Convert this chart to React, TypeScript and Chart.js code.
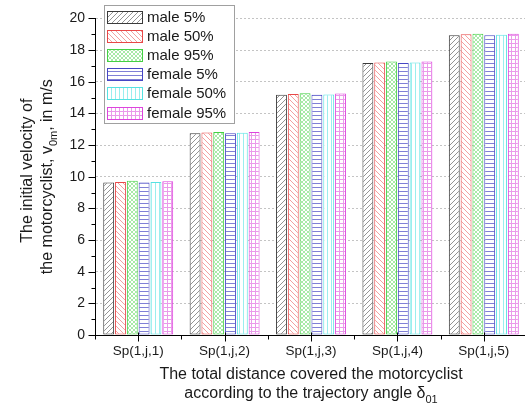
import React, { useEffect, useRef } from "react";
import { Chart, registerables } from "chart.js";

Chart.register(...registerables);

// Categories along the horizontal axis
const categories = ["Sp(1,j,1)", "Sp(1,j,2)", "Sp(1,j,3)", "Sp(1,j,4)", "Sp(1,j,5)"];

// Initial velocity v0m [m/s] for each rider group
const male5 = [9.63, 12.74, 15.18, 17.18, 18.94];
const male50 = [9.66, 12.8, 15.22, 17.22, 19.0];
const male95 = [9.74, 12.82, 15.27, 17.28, 19.03];
const female5 = [9.63, 12.74, 15.18, 17.18, 18.94];
const female50 = [9.66, 12.77, 15.2, 17.22, 18.97];
const female95 = [9.72, 12.82, 15.26, 17.28, 19.03];

const seriesLabels = ["male 5%", "male 50%", "male 95%", "female 5%", "female 50%", "female 95%"];

// Y axis range
const yMin = 0;
const yMax = 20;
const yStep = 2;

const FONT = "Arial, 'Liberation Sans', sans-serif";

type HatchKind = "fwd" | "back" | "cross" | "h" | "v" | "grid";

function makePattern(ctx: CanvasRenderingContext2D, kind: HatchKind, color: string, n: number) {
  const c = document.createElement("canvas");
  c.width = n;
  c.height = n;
  const g = c.getContext("2d") as CanvasRenderingContext2D;
  g.fillStyle = "#ffffff";
  g.fillRect(0, 0, n, n);
  g.strokeStyle = color;
  g.lineWidth = 1;
  const line = (x1: number, y1: number, x2: number, y2: number) => {
    g.beginPath();
    g.moveTo(x1, y1);
    g.lineTo(x2, y2);
    g.stroke();
  };
  if (kind === "fwd" || kind === "cross") {
    for (const k of [-n, 0, n]) line(k, n, k + n, 0);
  }
  if (kind === "back" || kind === "cross") {
    for (const k of [-n, 0, n]) line(k, 0, k + n, n);
  }
  if (kind === "h" || kind === "grid") line(0, n - 0.5, n, n - 0.5);
  if (kind === "v" || kind === "grid") line(n - 0.5, 0, n - 0.5, n);
  return ctx.createPattern(c, "repeat") as CanvasPattern;
}

type Part = { t: string; sub?: boolean };

function drawRich(ctx: CanvasRenderingContext2D, parts: Part[], cx: number, cy: number, size: number) {
  const subSize = Math.round(size * 0.66);
  let total = 0;
  for (const p of parts) {
    ctx.font = `${p.sub ? subSize : size}px ${FONT}`;
    total += ctx.measureText(p.t).width;
  }
  let x = cx - total / 2;
  const base = cy + size * 0.36;
  ctx.textAlign = "left";
  ctx.textBaseline = "alphabetic";
  for (const p of parts) {
    ctx.font = `${p.sub ? subSize : size}px ${FONT}`;
    ctx.fillText(p.t, x, p.sub ? base + size * 0.3 : base);
    x += ctx.measureText(p.t).width;
  }
}

export default function App() {
  const ref = useRef<HTMLCanvasElement | null>(null);

  useEffect(() => {
    const canvas = ref.current;
    if (!canvas) return;
    const ctx = canvas.getContext("2d") as CanvasRenderingContext2D;

    const styles = [
      { border: "#3a3a3a", fill: makePattern(ctx, "fwd", "#949494", 5) },
      { border: "#e84848", fill: makePattern(ctx, "back", "#f3a0a0", 5) },
      { border: "#44d044", fill: makePattern(ctx, "cross", "#a8eaa8", 4) },
      { border: "#4646c4", fill: makePattern(ctx, "h", "#8080d6", 4) },
      { border: "#55e2e2", fill: makePattern(ctx, "v", "#9aeeee", 4) },
      { border: "#dd44dd", fill: makePattern(ctx, "grid", "#ea9aea", 4) },
    ];
    const values = [male5, male50, male95, female5, female50, female95];

    const decorations = {
      id: "decorations",
      afterDraw(chart: any) {
        const c: CanvasRenderingContext2D = chart.ctx;
        const xs = chart.scales.x;
        const ys = chart.scales.y;
        const area = chart.chartArea;
        c.save();
        c.strokeStyle = "#000";
        c.lineWidth = 1;
        // y ticks: major every 2, minor every 1
        for (let v = yMin; v <= yMax; v += 1) {
          const y = Math.round(ys.getPixelForValue(v)) + 0.5;
          const len = v % yStep === 0 ? 7 : 4;
          c.beginPath();
          c.moveTo(Math.round(area.left) + 0.5 - len, y);
          c.lineTo(Math.round(area.left) + 0.5, y);
          c.stroke();
        }
        // x ticks: major at category centres, minor at boundaries
        const bottom = Math.round(area.bottom) + 0.5;
        for (let i = 0; i < categories.length; i++) {
          const x = Math.round(xs.getPixelForValue(i)) + 0.5;
          c.beginPath();
          c.moveTo(x, bottom - 3);
          c.lineTo(x, bottom + 6);
          c.stroke();
        }
        for (let i = 0; i <= categories.length; i++) {
          const x = Math.round(xs.getPixelForValue(i - 0.5)) + 0.5;
          c.beginPath();
          c.moveTo(x, bottom);
          c.lineTo(x, bottom + 4);
          c.stroke();
        }

        // axis titles
        c.fillStyle = "#1a1a1a";
        const midX = (area.left + area.right) / 2;
        drawRich(c, [{ t: "The total distance covered the motorcyclist" }], midX, 373, 16);
        drawRich(
          c,
          [{ t: "according to the trajectory angle \u03B4" }, { t: "01", sub: true }],
          midX,
          392,
          16
        );
        const midY = (area.top + area.bottom) / 2;
        c.save();
        c.translate(26, midY - 6);
        c.rotate(-Math.PI / 2);
        drawRich(c, [{ t: "The initial velocity of" }], 0, 0, 16);
        c.restore();
        c.save();
        c.translate(46, midY);
        c.rotate(-Math.PI / 2);
        drawRich(
          c,
          [{ t: "the motorcyclist, v" }, { t: "0m", sub: true }, { t: ", in m/s" }],
          0,
          0,
          16
        );
        c.restore();

        // legend box
        const lx = 104.5;
        const ly = 5.5;
        c.fillStyle = "#ffffff";
        c.fillRect(lx, ly, 130, 118);
        c.strokeStyle = "#a0a0a0";
        c.strokeRect(lx, ly, 130, 118);
        for (let i = 0; i < seriesLabels.length; i++) {
          const sy = 11 + i * 19.1;
          const ry = Math.round(sy) + 0.5;
          c.fillStyle = styles[i].fill;
          c.fillRect(107.5, ry, 35, 12);
          c.strokeStyle = styles[i].border;
          c.strokeRect(107.5, ry, 35, 12);
          c.fillStyle = "#1a1a1a";
          c.font = `15px ${FONT}`;
          c.textAlign = "left";
          c.textBaseline = "middle";
          c.fillText(seriesLabels[i], 147, ry + 6.5);
        }
        c.restore();
      },
    };

    const chart = new Chart(canvas, {
      type: "bar",
      data: {
        labels: categories,
        datasets: seriesLabels.map((label, i) => ({
          label,
          data: values[i],
          backgroundColor: styles[i].fill,
          borderColor: styles[i].border,
          borderWidth: 1,
          borderSkipped: false,
          categoryPercentage: 0.82,
          barPercentage: 0.92,
        })),
      },
      options: {
        responsive: false,
        maintainAspectRatio: false,
        devicePixelRatio: 1,
        animation: false,
        layout: { padding: { left: 0, right: 13, top: 16, bottom: 0 } },
        plugins: { legend: { display: false }, tooltip: { enabled: false } },
        scales: {
          x: {
            type: "category",
            grid: { display: false, drawTicks: false },
            border: { display: true, color: "#000", width: 1 },
            ticks: { font: { size: 13.5, family: FONT }, color: "#1a1a1a", padding: 8, maxRotation: 0 },
            afterFit: (s: any) => {
              s.height = 70;
            },
          },
          y: {
            min: yMin,
            max: yMax,
            grid: { color: "#c4c4c4", lineWidth: 1, drawTicks: false },
            border: { display: true, color: "#000", width: 1, dash: [2, 2] },
            ticks: { stepSize: yStep, font: { size: 14, family: FONT }, color: "#1a1a1a", padding: 10 },
            afterFit: (s: any) => {
              s.width = 95;
            },
          },
        },
      },
      plugins: [decorations],
    });

    return () => chart.destroy();
  }, []);

  return (
    <div
      style={{
        position: "fixed",
        left: 0,
        top: 0,
        width: 525,
        height: 405,
        overflow: "hidden",
        background: "#ffffff",
      }}
    >
      <canvas ref={ref} width={540} height={405} style={{ display: "block", width: 540, height: 405 }} />
    </div>
  );
}
